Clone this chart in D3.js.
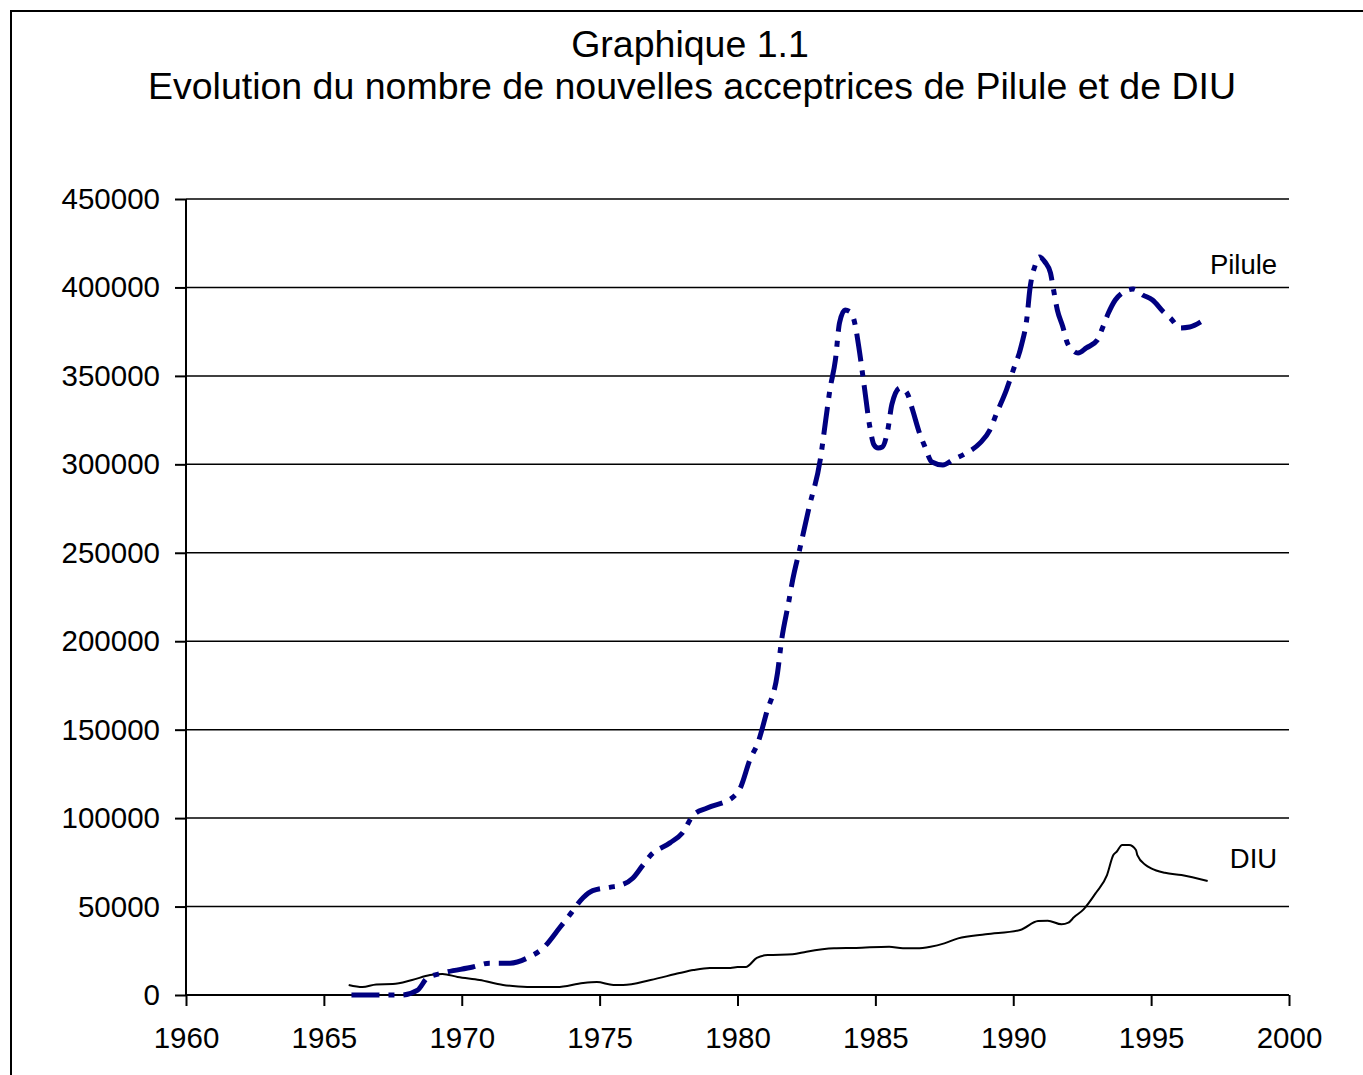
<!DOCTYPE html>
<html>
<head>
<meta charset="utf-8">
<script src="https://cdn.jsdelivr.net/npm/d3@7"></script>
<style>
  body { margin: 0; background: #fff; }
  svg text { font-family: "Liberation Sans", Arial, sans-serif; fill: #000; }
  .axis path, .axis line { stroke: #000; stroke-width: 2; }
  .grid line { stroke: #000; stroke-width: 1.5; }
</style>
</head>
<body>
<script>
// values
var titleLines = ["Graphique 1.1", "Evolution du nombre de nouvelles acceptrices de Pilule et de DIU"];
var xTicks = [1960, 1965, 1970, 1975, 1980, 1985, 1990, 1995, 2000];
var yTicks = [0, 50000, 100000, 150000, 200000, 250000, 300000, 350000, 400000, 450000];

var piluleYears = [1966.0, 1967.0, 1967.8, 1968.4, 1968.75, 1969.3, 1970.4, 1971.0, 1971.75, 1972.45,
  1972.95, 1973.55, 1973.95, 1974.4, 1974.75, 1975.4, 1975.75, 1976.2, 1976.55, 1976.85,
  1977.55, 1978.0, 1978.4, 1978.9, 1979.85, 1980.1, 1980.45, 1980.75, 1981.05, 1981.45,
  1981.6, 1981.85, 1982.0, 1982.25, 1982.6, 1983.0, 1983.2, 1983.35, 1983.55, 1983.7,
  1983.9, 1984.1, 1984.25, 1984.4, 1984.6, 1984.8, 1984.95, 1985.1, 1985.25, 1985.45,
  1985.6, 1985.9, 1986.15, 1986.35, 1986.6, 1986.8, 1987.05, 1987.45, 1987.8, 1988.3,
  1988.8, 1989.15, 1989.4, 1989.75, 1990.0, 1990.3, 1990.5, 1990.6, 1990.8, 1990.95,
  1991.15, 1991.35, 1991.45, 1991.6, 1991.8, 1991.95, 1992.15, 1992.35, 1992.65, 1993.05,
  1993.25, 1993.45, 1993.7, 1994.0, 1994.35, 1994.7, 1995.05, 1995.45, 1995.7, 1996.05,
  1996.4, 1996.8];
var piluleValues = [0, 0, 0, 2800, 9600, 12400, 15800, 18000, 18000, 21500,
  26500, 38000, 46000, 55000, 59000, 61000, 62000, 66000, 73000, 79000,
  86000, 91600, 101700, 105700, 112000, 117000, 133000, 143000, 159400, 182000,
  200700, 221600, 234600, 251600, 275900, 302500, 325100, 342000, 359000, 380000,
  387200, 386100, 380000, 366300, 343700, 321100, 311000, 309200, 309800, 319400,
  334000, 343200, 340300, 330700, 317700, 309800, 301300, 299600, 302500, 306400,
  312100, 319400, 329000, 342000, 353300, 367500, 383300, 398600, 412700, 417200,
  414400, 408200, 399700, 387200, 377600, 369100, 364600, 362900, 365800, 370300,
  377600, 385500, 392900, 397400, 399100, 395700, 392900, 386100, 382700, 377100,
  377600, 380500];

var diuYears = [1965.9, 1966.4, 1966.9, 1967.5, 1968.2, 1968.85, 1969.3, 1969.85, 1970.65, 1971.5,
  1971.85, 1972.5, 1973.45, 1974.4, 1974.9, 1975.5, 1975.85, 1976.85, 1977.9, 1978.4,
  1979.0, 1979.75, 1980.0, 1980.3, 1980.7, 1981.1, 1982.0, 1982.5, 1983.5, 1984.3,
  1985.5, 1986.0, 1986.5, 1987.0, 1987.5, 1988.0, 1989.0, 1990.25, 1990.9, 1991.25,
  1991.75, 1992.0, 1992.2, 1992.55, 1993.0, 1993.4, 1993.63, 1993.75, 1993.95, 1994.2,
  1994.45, 1994.5, 1994.8, 1995.0, 1995.5, 1996.1, 1997.05];
var diuValues = [5700, 4500, 6000, 6200, 8500, 11300, 11900, 10200, 8500, 5700,
  5100, 4500, 4500, 6800, 7300, 5700, 5700, 8500, 12400, 14100,
  15300, 15300, 15800, 15800, 21000, 22600, 23000, 24500, 26400, 26600,
  27300, 26400, 26400, 27300, 29200, 32000, 34300, 36700, 41800, 42000,
  40000, 40900, 43900, 48400, 57800, 67800, 79100, 81000, 84800, 84800,
  82000, 79100, 73500, 71600, 69100, 67800, 64400];

var seriesLabels = [
  {name: "Pilule", year: 1999.57, value: 407600},
  {name: "DIU", year: 1999.57, value: 71800}
];

// layout
var W = 1363, H = 1075;
var margin = {top: 199, right: 74, bottom: 80, left: 186};
var width = 1289 - margin.left;
var height = 995 - margin.top;

var svg = d3.select("body").append("svg")
  .attr("width", W)
  .attr("height", H);

// outer frame (runs off the right and bottom edges)
svg.append("rect")
  .attr("x", 11).attr("y", 11)
  .attr("width", W + 20).attr("height", H + 20)
  .attr("fill", "none").attr("stroke", "#000").attr("stroke-width", 2);

svg.append("text")
  .attr("x", 690).attr("y", 57)
  .attr("text-anchor", "middle")
  .style("font-size", "37.5px")
  .text(titleLines[0]);
svg.append("text")
  .attr("x", 692).attr("y", 99)
  .attr("text-anchor", "middle")
  .style("font-size", "37.5px")
  .text(titleLines[1]);

var g = svg.append("g")
  .attr("transform", "translate(" + margin.left + "," + margin.top + ")");

var xScale = d3.scaleLinear().domain([1960, 2000]).range([0, width]);
var yScale = d3.scaleLinear().domain([0, 450000]).range([height, 0]);

// horizontal gridlines
g.append("g").attr("class", "grid")
  .selectAll("line")
  .data(yTicks.filter(function(d) { return d > 0; }))
  .enter().append("line")
  .attr("x1", 0).attr("x2", width)
  .attr("y1", function(d) { return yScale(d); })
  .attr("y2", function(d) { return yScale(d); });

var yAxis = d3.axisLeft(yScale).tickValues(yTicks).tickSize(11).tickPadding(15)
  .tickFormat(d3.format("d"));
g.append("g").attr("class", "axis").call(yAxis)
  .call(function(s) { s.select(".domain").attr("d", "M0," + height + "V0"); })
  .selectAll("text").style("font-size", "29.5px");

var xAxis = d3.axisBottom(xScale).tickValues(xTicks).tickSize(11).tickPadding(21)
  .tickFormat(d3.format("d"));
g.append("g").attr("class", "axis")
  .attr("transform", "translate(0," + height + ")")
  .call(xAxis)
  .call(function(s) { s.select(".domain").attr("d", "M0,0H" + width); })
  .selectAll("text").style("font-size", "29.5px");

var line = d3.line()
  .x(function(d) { return xScale(d[0]); })
  .y(function(d) { return yScale(d[1]); })
  .curve(d3.curveMonotoneX);

var diuData = d3.zip(diuYears, diuValues);
var piluleData = d3.zip(piluleYears, piluleValues);

g.append("path")
  .datum(diuData)
  .attr("d", line)
  .attr("fill", "none")
  .attr("stroke", "#000")
  .attr("stroke-width", 2);

g.append("path")
  .datum(piluleData)
  .attr("d", line)
  .attr("fill", "none")
  .attr("stroke", "#000080")
  .attr("stroke-width", 5)
  .attr("stroke-dasharray", "28,9,6,9");

g.selectAll(".series-label")
  .data(seriesLabels)
  .enter().append("text")
  .attr("class", "series-label")
  .attr("x", function(d) { return xScale(d.year); })
  .attr("y", function(d) { return yScale(d.value); })
  .attr("text-anchor", "end")
  .style("font-size", "27.5px")
  .text(function(d) { return d.name; });
</script>
</body>
</html>
